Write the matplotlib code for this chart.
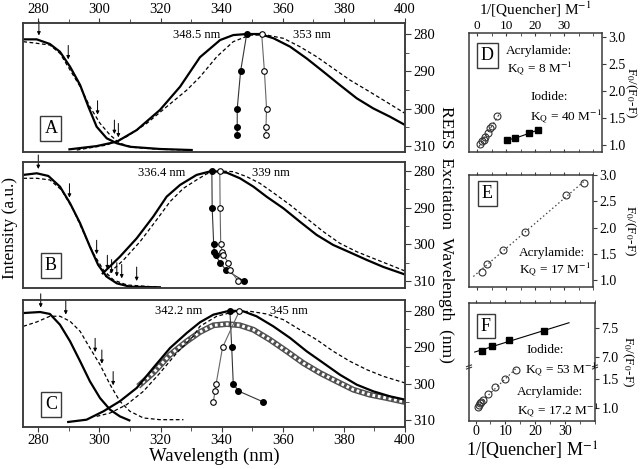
import numpy as np
import matplotlib
matplotlib.use("Agg")
import matplotlib.pyplot as plt
from matplotlib.ticker import MultipleLocator

plt.rcParams['font.family'] = ['Liberation Serif', 'DejaVu Serif']
plt.rcParams['mathtext.fontset'] = 'stix'

# ---------------- data ----------------
# Panel A
A_abs_s_nm = [275.1, 279.5, 283.8, 287.1, 290.4, 293.7, 296.4, 299.1, 302.4, 305.7, 310.0, 319.8, 330.2]
A_abs_s_i = [0.954, 0.954, 0.914, 0.847, 0.718, 0.56, 0.373, 0.201, 0.101, 0.058, 0.028, 0.009, 0.0]
A_abs_d_nm = [275.1, 279.5, 283.8, 287.1, 290.4, 293.7, 296.9, 300.2, 303.5, 306.7, 311.1, 319.8, 330.2]
A_abs_d_i = [0.934, 0.92, 0.905, 0.833, 0.69, 0.546, 0.373, 0.23, 0.129, 0.058, 0.023, 0.006, 0.0]
A_em_s_nm = [290.2, 299.1, 305.7, 312.2, 319.8, 326.4, 332.9, 339.5, 343.8, 348.2, 352.6, 357.0, 362.4,
             367.8, 373.3, 378.7, 384.2, 389.6, 395.1, 400]
A_em_s_i = [0.006, 0.034, 0.072, 0.172, 0.345, 0.546, 0.80, 0.948, 0.991, 1.0, 1.0, 0.963, 0.891,
            0.79, 0.675, 0.56, 0.446, 0.359, 0.287, 0.216]
A_em_d_nm = [292.6, 302.4, 308.9, 315.5, 322.0, 328.6, 332.9, 338.4, 343.8, 349.3, 354.7, 360.2, 365.6,
             371.1, 376.5, 382.0, 387.5, 392.9, 400]
A_em_d_i = [0.0, 0.043, 0.115, 0.23, 0.373, 0.517, 0.63, 0.804, 0.934, 0.991, 0.991, 0.963, 0.891,
            0.804, 0.704, 0.603, 0.517, 0.431, 0.316]
A_exc = [280, 290, 300, 305, 307]
A_rees_fill = [348.2, 346.2, 345.1, 345.1, 345.1]
A_rees_open = [353.1, 354.0, 354.7, 354.5, 354.5]
A_arrows = [280.2, 289.8, 299.4, 304.9, 306.2]

# Panel B
B_abs_s_nm = [275.1, 279.5, 283.3, 287.1, 290.4, 293.7, 296.9, 299.6, 302.4, 305.7, 310.0, 319.8]
B_abs_s_i = [0.966, 0.98, 0.957, 0.865, 0.722, 0.55, 0.349, 0.192, 0.091, 0.034, 0.005, 0.0]
B_abs_d_nm = [275.1, 279.5, 283.8, 287.6, 291.5, 294.7, 298.0, 301.3, 304.6, 309.0, 319.8]
B_abs_d_i = [0.937, 0.937, 0.923, 0.837, 0.665, 0.478, 0.292, 0.149, 0.063, 0.02, 0.0]
B_em_s_nm = [301.1, 306.7, 312.2, 317.6, 322.0, 326.4, 331.8, 336.8, 341.7, 346.0, 350.4, 354.7, 360.2,
             365.6, 371.1, 376.5, 382.0, 387.5, 392.9, 400]
B_em_s_i = [0.12, 0.263, 0.421, 0.607, 0.779, 0.88, 0.966, 1.0, 0.985, 0.937, 0.865, 0.779, 0.679,
            0.564, 0.45, 0.364, 0.30, 0.235, 0.175, 0.11]
B_em_d_nm = [301.9, 307.9, 313.3, 318.7, 323.1, 327.5, 331.8, 335.1, 339.0, 343.8, 348.2, 352.5, 356.9,
             362.4, 367.8, 373.3, 378.7, 384.2, 389.6, 395.1, 400]
B_em_d_i = [0.091, 0.235, 0.392, 0.579, 0.736, 0.851, 0.923, 0.975, 1.0, 0.994, 0.951, 0.894, 0.813,
            0.708, 0.593, 0.478, 0.378, 0.306, 0.249, 0.192, 0.14]
B_exc = [280, 290, 300, 302, 303, 305, 307, 310]
B_rees_fill = [336.8, 336.9, 337.4, 337.6, 338.0, 339.5, 341.4, 347.3]
B_rees_open = [339.4, 339.5, 339.7, 340.2, 340.6, 342.2, 342.7, 345.4]
B_arrows = [280.0, 290.2, 299.1, 302.6, 304.0, 305.7, 307.3, 312.2]

# Panel C
C_abs_s_nm = [275.1, 280.6, 283.8, 287.1, 290.4, 293.7, 296.9, 300.2, 303.5, 306.7, 309.8]
C_abs_s_i = [0.976, 0.985, 0.968, 0.874, 0.729, 0.554, 0.379, 0.233, 0.131, 0.073, 0.038]
C_abs_d_nm = [275.1, 279.5, 283.8, 287.1, 290.4, 293.7, 296.9, 300.2, 303.5, 306.7, 310.0, 314.4, 319.8, 327.5]
C_abs_d_i = [0.86, 0.898, 0.948, 0.948, 0.904, 0.816, 0.67, 0.525, 0.35, 0.205, 0.117, 0.059, 0.044, 0.044]
C_em_s_nm = [289.8, 295.8, 301.3, 306.7, 312.2, 317.6, 323.1, 328.6, 332.9, 337.3, 342.7, 347.1, 351.4,
             356.9, 362.4, 367.8, 373.3, 378.7, 384.2, 389.6, 395.1, 400]
C_em_s_i = [0.024, 0.044, 0.117, 0.205, 0.321, 0.496, 0.67, 0.802, 0.895, 0.962, 0.997, 0.991, 0.948,
            0.86, 0.758, 0.642, 0.539, 0.437, 0.35, 0.292, 0.248, 0.219]
C_em_d_nm = [299.1, 303.5, 308.9, 314.4, 319.8, 325.3, 330.7, 332.9, 338.4, 343.8, 349.3, 354.7, 360.2,
             365.6, 371.1, 376.5, 382.0, 387.5, 392.9, 400]
C_em_d_i = [0.073, 0.102, 0.175, 0.292, 0.452, 0.627, 0.773, 0.86, 0.948, 0.985, 0.991, 0.968, 0.918,
            0.83, 0.743, 0.642, 0.554, 0.481, 0.423, 0.365]
C_em_h_nm = [312.7, 317.6, 323.1, 328.6, 332.9, 337.3, 341.7, 346.0, 350.4, 355.8, 361.3, 366.7, 372.2,
             377.6, 383.1, 388.5, 394.0, 400]
C_em_h_i = [0.336, 0.452, 0.612, 0.729, 0.81, 0.869, 0.88, 0.869, 0.83, 0.743, 0.642, 0.539, 0.452,
            0.379, 0.306, 0.262, 0.233, 0.198]
C_exc = [280, 290, 300, 302, 305]
C_rees_fill = [342.7, 343.3, 343.8, 345.5, 353.6]
C_rees_open = [345.8, 340.3, 338.2, 337.8, 337.3]
C_arrows = [280.8, 289.0, 298.6, 300.8, 304.5]

# Panel D (Stern-Volmer type)
D_acr_x = [1.1, 1.7, 2.2, 2.8, 3.7, 4.5, 5.2, 7.0]
D_acr_y = [1.03, 1.08, 1.10, 1.15, 1.22, 1.31, 1.35, 1.54]
D_iod_x = [10.4, 13.1, 17.9, 20.8]
D_iod_y = [1.10, 1.13, 1.22, 1.28]
# Panel E
E_acr_x = [1.6, 3.3, 8.9, 16.7, 30.6, 36.9]
E_acr_y = [1.16, 1.30, 1.58, 1.92, 2.62, 2.84]
# Panel F
F_iod_x = [2.0, 5.6, 11.3, 22.8]
F_iod_y = [7.11, 7.19, 7.29, 7.45]
F_acr_x = [0.8, 1.1, 1.5, 1.9, 2.5, 4.1, 6.5, 9.9, 13.4]
F_acr_y = [1.02, 1.05, 1.08, 1.11, 1.14, 1.24, 1.36, 1.51, 1.65]
F_ytick_vals = [1.0, 1.5, 7.0, 7.5]
SV_xticks = [0, 10, 20, 30]
SV_xminor = [5, 15, 25, 35, 40]

# ---------------- figure ----------------
W, H = 640, 469
fig = plt.figure(figsize=(W / 100, H / 100), dpi=100)
SPINE = '#3a3a3a'


def ax_px(l, t, r, b):
    return fig.add_axes([l / W, 1 - b / H, (r - l) / W, (b - t) / H])


def style_spines(ax):
    for s in ax.spines.values():
        s.set_color(SPINE)
        s.set_linewidth(1.1)


def letter_box(ax, x, y, s):
    ax.text(x, y, s, transform=ax.transAxes, fontsize=13, ha='center', va='center',
            bbox=dict(boxstyle='square,pad=0.22', fc='white', ec=SPINE, lw=1.0), zorder=10)


def spectra_panel(ax, abs_s, abs_d, em_s, em_d, exc, rf, ro, arrows, ylim_i, ylim_r,
                  letter, lab_l, lab_r, xtop=False, xbottom=False, hatch=None):
    ax.set_xlim(275, 400)
    ax.set_ylim(*ylim_i)
    ax.plot(*abs_s, color='k', lw=1.6)
    ax.plot(*abs_d, color='k', lw=0.9, dashes=(3, 2))
    if hatch is not None:
        ax.plot(*hatch, color='#505050', lw=4.2, solid_capstyle='butt')
        ax.plot(*hatch, color='white', lw=2.2, dashes=(0.9, 0.9))
    ax.plot(*em_s, color='k', lw=1.6)
    ax.plot(*em_d, color='k', lw=0.9, dashes=(3, 2))
    for xa in arrows:
        yc = max(np.interp(xa, *abs_s), np.interp(xa, *abs_d))
        ax.annotate('', xy=(xa, yc + 0.04), xytext=(xa, yc + 0.16),
                    arrowprops=dict(arrowstyle='-|>', lw=0.7, color='k', mutation_scale=5,
                                    shrinkA=0, shrinkB=0))
    ax.set_yticks([])
    ax.xaxis.set_major_locator(MultipleLocator(20))
    ax.xaxis.set_minor_locator(MultipleLocator(10))
    ax.tick_params(axis='x', which='both', direction='out', colors=SPINE, labelcolor='k',
                   labelsize=10.5, top=xtop, labeltop=xtop, bottom=xbottom, labelbottom=xbottom,
                   length=3, pad=1.5)
    ax.tick_params(axis='x', which='major', length=3.5)
    style_spines(ax)
    tw = ax.twinx()
    tw.set_ylim(*ylim_r)
    tw.plot(rf, exc, color='#333333', lw=0.8, marker='o', ms=4, mfc='k', mec='k')
    tw.plot(ro, exc, color='#666666', lw=0.8, marker='o', ms=4, mfc='white', mec='k', mew=0.8)
    tw.yaxis.set_major_locator(MultipleLocator(10))
    tw.yaxis.set_minor_locator(MultipleLocator(5))
    tw.tick_params(axis='y', which='both', direction='out', labelsize=10.5, colors=SPINE,
                   labelcolor='k', length=3, pad=2)
    tw.tick_params(axis='y', which='major', length=4)
    style_spines(tw)
    tw.text(lab_l[0], lab_l[1], lab_l[2], ha='right', va='center', fontsize=9)
    tw.text(lab_r[0], lab_r[1], lab_r[2], ha='left', va='center', fontsize=9)
    letter_box(ax, letter[0], letter[1], letter[2])
    return tw


axA = ax_px(23, 23, 405, 152)
spectra_panel(axA, (A_abs_s_nm, A_abs_s_i), (A_abs_d_nm, A_abs_d_i), (A_em_s_nm, A_em_s_i),
              (A_em_d_nm, A_em_d_i), A_exc, A_rees_fill, A_rees_open, A_arrows,
              (-0.017, 1.095), (311.6, 277.05), (0.073, 0.18, 'A'),
              (339.5, 280.3, '348.5 nm'), (363.4, 280.3, '353 nm'), xtop=True)

axB = ax_px(23, 162, 405, 288)
spectra_panel(axB, (B_abs_s_nm, B_abs_s_i), (B_abs_d_nm, B_abs_d_i), (B_em_s_nm, B_em_s_i),
              (B_em_d_nm, B_em_d_i), B_exc, B_rees_fill, B_rees_open, B_arrows,
              (-0.006, 1.077), (311.9, 277.6), (0.073, 0.18, 'B'),
              (328.0, 280.5, '336.4 nm'), (349.8, 280.5, '339 nm'))

axC = ax_px(23, 300, 405, 427)
spectra_panel(axC, (C_abs_s_nm, C_abs_s_i), (C_abs_d_nm, C_abs_d_i), (C_em_s_nm, C_em_s_i),
              (C_em_d_nm, C_em_d_i), C_exc, C_rees_fill, C_rees_open, C_arrows,
              (-0.02, 1.09), (311.9, 276.97), (0.073, 0.18, 'C'),
              (333.8, 280.0, '342.2 nm'), (355.8, 280.0, '345 nm'), xbottom=True,
              hatch=(C_em_h_nm, C_em_h_i))

fig.text(10 / W, 1 - 228 / H, 'Intensity (a.u.)', rotation=90, ha='center', va='center', fontsize=12.5)
fig.text(214 / W, 1 - 456 / H, 'Wavelength (nm)', ha='center', va='center', fontsize=13.5)
fig.text(446 / W, 1 - 234 / H, 'REES  Excitation  Wavelength  (nm)', rotation=-90,
         ha='center', va='center', fontsize=12.5)


# ---------------- right panels ----------------
def sv_axes(ax, xlim, ylim, ylab_x, top_labels=False, bottom_labels=False):
    ax.set_xlim(*xlim)
    ax.set_ylim(*ylim)
    ax.set_xticks(SV_xticks)
    ax.set_xticks(SV_xminor, minor=True)
    ax.yaxis.tick_right()
    ax.tick_params(axis='x', which='both', direction='out', top=True, bottom=True,
                   labeltop=top_labels, labelbottom=bottom_labels, labelsize=9.5,
                   colors=SPINE, labelcolor='k', length=2, pad=0.5)
    ax.tick_params(axis='x', which='major', length=2.5)
    ax.tick_params(axis='y', direction='out', labelsize=10, colors=SPINE, labelcolor='k',
                   length=3, pad=1.5)
    style_spines(ax)
    pos = ax.get_position()
    fig.text(ylab_x / W, pos.y0 + pos.height / 2, r'F$_0$/(F$_0$-F)', rotation=-90,
             ha='center', va='center', fontsize=9.5)


axD = ax_px(469, 33, 602, 152)
sv_axes(axD, (-2.8, 43), (0.876, 3.069), 630.5, top_labels=True)
axD.tick_params(axis='x', which='both', direction='in', pad=1)
axD.set_yticks([1.0, 1.5, 2.0, 2.5, 3.0])
fig.text(535 / W, 1 - 9 / H, r'1/[Quencher] M$^{\mathrm{-1}}$', ha='center', va='center', fontsize=11)
pD = np.polyfit(D_acr_x, D_acr_y, 1)
xfD = np.array([min(D_acr_x) - 0.5, max(D_acr_x) + 1.0])
axD.plot(xfD, np.polyval(pD, xfD), color='#444', lw=0.8, dashes=(2, 2))
axD.plot(D_acr_x, D_acr_y, 'o', ms=5, mfc='none', mec='#333', mew=0.8)
axD.plot(D_iod_x, D_iod_y, color='k', lw=0.8, marker='s', ms=5, mfc='k', mec='k')
letter_box(axD, 0.139, 0.807, 'D')
axD.text(0.278, 0.851, 'Acrylamide:', transform=axD.transAxes, fontsize=9.5, va='center')
axD.text(0.286, 0.703, r'K$_{\mathrm{Q}}$ = 8 M$^{\mathrm{-1}}$', transform=axD.transAxes, fontsize=9.5, va='center')
axD.text(0.459, 0.46, 'Iodide:', transform=axD.transAxes, fontsize=9.5, va='center')
axD.text(0.459, 0.297, r'K$_{\mathrm{Q}}$ = 40 M$^{\mathrm{-1}}$', transform=axD.transAxes, fontsize=9.5, va='center')

axE = ax_px(469, 175, 593, 287)
sv_axes(axE, (-2.8, 40), (0.867, 3.0), 630)
axE.set_yticks([1.0, 1.5, 2.0, 2.5, 3.0])
pE = np.polyfit(E_acr_x, E_acr_y, 1)
xfE = np.array([-1.3, 37.2])
axE.plot(xfE, np.polyval(pE, xfE), color='#444', lw=0.9, dashes=(1.2, 2))
axE.plot(E_acr_x, E_acr_y, 'o', ms=5, mfc='none', mec='#333', mew=0.8)
letter_box(axE, 0.148, 0.832, 'E')
axE.text(0.406, 0.306, 'Acrylamide:', transform=axE.transAxes, fontsize=9.5, va='center')
axE.text(0.406, 0.152, r'K$_{\mathrm{Q}}$ = 17 M$^{\mathrm{-1}}$', transform=axE.transAxes, fontsize=9.5, va='center')

# F: broken y axis (upper segment shifted down for display)
SHIFT = 5.12
BREAK_Y = 1.71
axF = ax_px(469, 303, 595, 421)
sv_axes(axF, (-2.2, 40), (0.776, 2.816), 628, bottom_labels=True)
axF.set_yticks([v if v < 5 else v - SHIFT for v in F_ytick_vals])
axF.set_yticklabels(['%.1f' % v for v in F_ytick_vals])
axF.tick_params(axis='x', labelsize=10)
axF.set_xlabel(r'1/[Quencher] M$^{\mathrm{-1}}$', fontsize=13, labelpad=1)
pFi = np.polyfit(F_iod_x, F_iod_y, 1)
xfFi = np.array([-0.3, 31.3])
axF.plot(xfFi, np.polyval(pFi, xfFi) - SHIFT, color='k', lw=0.8)
axF.plot(F_iod_x, np.array(F_iod_y) - SHIFT, 's', ms=5, mfc='k', mec='k')
pFa = np.polyfit(F_acr_x, F_acr_y, 1)
xfFa = np.array([0.5, 14.0])
axF.plot(xfFa, np.polyval(pFa, xfFa), color='#444', lw=0.9, dashes=(1.2, 2))
axF.plot(F_acr_x, F_acr_y, 'o', ms=5, mfc='none', mec='#333', mew=0.8)
# axis-break marks (two short slanted strokes on each vertical spine)
ytr = axF.get_yaxis_transform()
for xb in (0.0, 1.0):
    for dy in (-0.02, 0.02):
        axF.plot([xb - 0.02, xb + 0.02], [BREAK_Y + dy - 0.015, BREAK_Y + dy + 0.015],
                 transform=ytr, color=SPINE, lw=0.8, clip_on=False)
letter_box(axF, 0.132, 0.805, 'F')
axF.text(0.458, 0.60, 'Iodide:', transform=axF.transAxes, fontsize=9.5, va='center')
axF.text(0.445, 0.437, r'K$_{\mathrm{Q}}$ = 53 M$^{\mathrm{-1}}$', transform=axF.transAxes, fontsize=9.5, va='center')
axF.text(0.378, 0.248, 'Acrylamide:', transform=axF.transAxes, fontsize=9.5, va='center')
axF.text(0.378, 0.09, r'K$_{\mathrm{Q}}$ = 17.2 M$^{\mathrm{-1}}$', transform=axF.transAxes, fontsize=9.5, va='center')

fig.savefig('out.png', dpi=100)
